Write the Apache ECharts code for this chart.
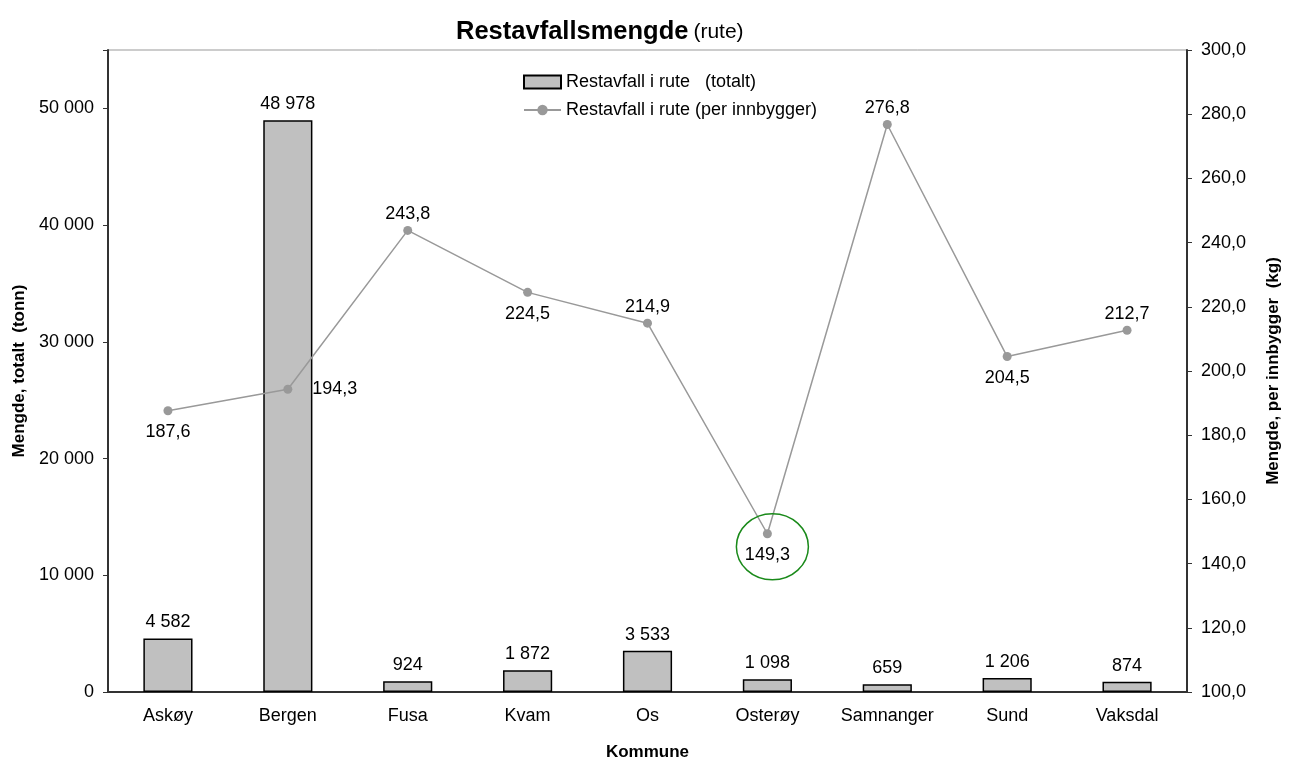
<!DOCTYPE html>
<html><head><meta charset="utf-8">
<script src="https://cdn.jsdelivr.net/npm/echarts@6/dist/echarts.min.js"></script>
<style>html,body{margin:0;padding:0;background:#fff}#c{width:1289px;height:757px}</style>
</head><body><div id="c"></div>
<script>
const categories = ['Askøy','Bergen','Fusa','Kvam','Os','Osterøy','Samnanger','Sund','Vaksdal'];
const totalValues = [4582, 48978, 924, 1872, 3533, 1098, 659, 1206, 874];
const perCapitaValues = [187.6, 194.3, 243.8, 224.5, 214.9, 149.3, 276.8, 204.5, 212.7];
const lineLabelPositions = ['bottom','right','top','bottom','top','bottom','top','bottom','top'];
const leftTicks = {min: 0, max: 55000, interval: 10000};
const rightTicks = {min: 100, max: 300, interval: 20};

const FONT = '"Liberation Sans", Arial, sans-serif';
const fmtThousands = v => String(Math.round(v)).replace(/\B(?=(\d{3})+(?!\d))/g, ' ');
const fmtDec = v => v.toFixed(1).replace('.', ',');
const labelDistance = pos => pos === 'top' ? 3 : (pos === 'right' ? 20 : 8);

const chart = echarts.init(document.getElementById('c'));
chart.setOption({
  animation: false,
  textStyle: {fontFamily: FONT},
  title: {
    text: '{b|Restavfallsmengde} {n|(rute)}',
    left: 451, top: 14,
    textStyle: {fontWeight: 'normal', rich: {
      b: {fontFamily: FONT, fontSize: 25.5, fontWeight: 'bold', color: '#000'},
      n: {fontFamily: FONT, fontSize: 21, fontWeight: 'normal', color: '#000'}
    }}
  },
  legend: {
    orient: 'vertical', left: 518, top: 68, itemGap: 10,
    itemWidth: 37, itemHeight: 13,
    textStyle: {fontFamily: FONT, fontSize: 18, color: '#000'},
    data: [
      {name: 'Restavfall i rute   (totalt)', icon: 'rect'},
      {name: 'Restavfall i rute (per innbygger)'}
    ]
  },
  grid: {left: 108, right: 102, top: 50, bottom: 65, containLabel: false, outerBoundsMode: 'none',
    show: true, borderColor: '#999', borderWidth: 1},
  xAxis: {
    type: 'category', data: categories,
    name: 'Kommune', nameLocation: 'middle', nameGap: 52,
    nameTextStyle: {fontFamily: FONT, fontSize: 17, fontWeight: 'bold', color: '#000'},
    axisLine: {lineStyle: {color: '#333', width: 2}},
    axisTick: {length: 5, lineStyle: {color: '#333'}},
    axisLabel: {interval: 0, fontFamily: FONT, fontSize: 18, color: '#000', margin: 15}
  },
  yAxis: [{
    type: 'value', min: leftTicks.min, max: leftTicks.max, interval: leftTicks.interval,
    name: 'Mengde, totalt  (tonn)', nameLocation: 'middle', nameGap: 80, nameRotate: 90,
    nameTextStyle: {fontFamily: FONT, fontSize: 17, fontWeight: 'bold', color: '#000'},
    axisLine: {show: true, lineStyle: {color: '#333', width: 2}},
    axisTick: {show: true, length: 5, lineStyle: {color: '#333'}},
    splitLine: {show: false},
    axisLabel: {fontFamily: FONT, fontSize: 18, color: '#000', margin: 14,
      formatter: v => v > 50000 ? '' : fmtThousands(v)}
  }, {
    type: 'value', min: rightTicks.min, max: rightTicks.max, interval: rightTicks.interval,
    position: 'right',
    name: 'Mengde, per innbygger  (kg)', nameLocation: 'middle', nameGap: 78, nameRotate: 90,
    nameTextStyle: {fontFamily: FONT, fontSize: 17, fontWeight: 'bold', color: '#000'},
    axisLine: {show: true, lineStyle: {color: '#333', width: 2}},
    axisTick: {show: true, length: 5, lineStyle: {color: '#333'}},
    splitLine: {show: false},
    axisLabel: {fontFamily: FONT, fontSize: 18, color: '#000', margin: 14, formatter: v => fmtDec(v)}
  }],
  series: [{
    name: 'Restavfall i rute   (totalt)', type: 'bar', yAxisIndex: 0,
    data: totalValues, barWidth: '41%',
    itemStyle: {color: '#c0c0c0', borderColor: '#000', borderWidth: 1.5},
    label: {show: true, position: 'top', distance: 7, fontFamily: FONT, fontSize: 18, color: '#000',
      formatter: p => fmtThousands(p.value)}
  }, {
    name: 'Restavfall i rute (per innbygger)', type: 'line', yAxisIndex: 1,
    data: perCapitaValues.map((v, i) => ({value: v,
      label: {position: lineLabelPositions[i], distance: labelDistance(lineLabelPositions[i])}})),
    symbol: 'circle', symbolSize: 9,
    lineStyle: {color: '#999', width: 1.5},
    itemStyle: {color: '#999'},
    label: {show: true, fontFamily: FONT, fontSize: 18, color: '#000',
      formatter: p => fmtDec(p.value)}
  }]
});

const pt = chart.convertToPixel({seriesIndex: 1}, [5, perCapitaValues[5]]);
chart.setOption({
  graphic: [{
    type: 'ellipse', shape: {cx: pt[0] + 5, cy: pt[1] + 13, rx: 36, ry: 33},
    style: {fill: 'none', stroke: '#1a8a1a', lineWidth: 1.5}, z: 100
  }]
});
</script>
</body></html>
